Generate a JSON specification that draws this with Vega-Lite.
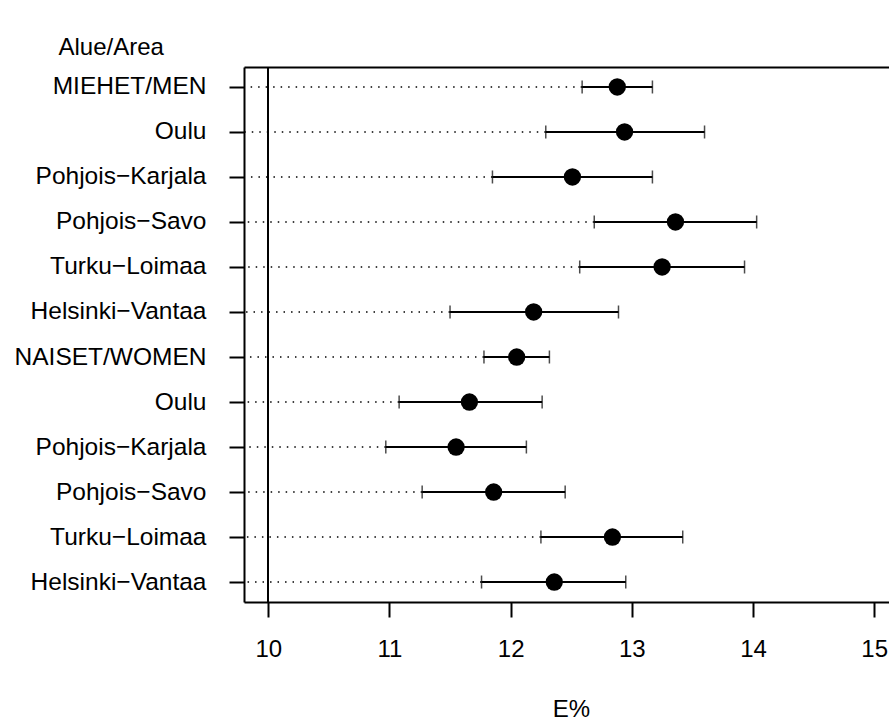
{
  "$schema": "https://vega.github.io/schema/vega-lite/v6.json",
  "autosize": {"type": "none"},
  "padding": {"left": 244, "top": 67, "right": 0, "bottom": 118},
  "width": 645,
  "height": 535,
  "background": "white",
  "config": {
    "font": "Liberation Sans",
    "view": {"stroke": null},
    "axis": {"grid": false, "labelColor": "black", "titleColor": "black", "domainColor": "black", "tickColor": "black"}
  },
  "data": {
    "values": [
      {"key": "M MIEHET/MEN", "est": 12.88, "lo": 12.59, "hi": 13.17},
      {"key": "M Oulu", "est": 12.94, "lo": 12.29, "hi": 13.60},
      {"key": "M Pohjois−Karjala", "est": 12.51, "lo": 11.85, "hi": 13.17},
      {"key": "M Pohjois−Savo", "est": 13.36, "lo": 12.69, "hi": 14.03},
      {"key": "M Turku−Loimaa", "est": 13.25, "lo": 12.57, "hi": 13.93},
      {"key": "M Helsinki−Vantaa", "est": 12.19, "lo": 11.50, "hi": 12.89},
      {"key": "N NAISET/WOMEN", "est": 12.05, "lo": 11.78, "hi": 12.32},
      {"key": "N Oulu", "est": 11.66, "lo": 11.08, "hi": 12.26},
      {"key": "N Pohjois−Karjala", "est": 11.55, "lo": 10.97, "hi": 12.13},
      {"key": "N Pohjois−Savo", "est": 11.86, "lo": 11.27, "hi": 12.45},
      {"key": "N Turku−Loimaa", "est": 12.84, "lo": 12.25, "hi": 13.42},
      {"key": "N Helsinki−Vantaa", "est": 12.36, "lo": 11.76, "hi": 12.95}
    ]
  },
  "resolve": {"axis": {"x": "independent"}},
  "layer": [
    {
      "mark": {"type": "rule", "color": "black", "strokeWidth": 1.5, "strokeDash": [1.5, 6]},
      "encoding": {
        "y": {
          "field": "key", "type": "nominal", "sort": null,
          "scale": {"type": "point", "padding": 0.444},
          "axis": {
            "title": "Alue/Area", "titleAngle": 0, "titleAlign": "left", "titleBaseline": "middle",
            "titleX": -186, "titleY": -20, "titleFontSize": 24, "titleFontWeight": "normal",
            "labelExpr": "slice(datum.label, 2)", "labelFontSize": 24.5, "labelPadding": 23,
            "tickSize": 15, "tickWidth": 2, "domainWidth": 2, "labelLimit": 0
          }
        },
        "x": {"field": "lo", "type": "quantitative", "axis": null,
              "scale": {"domain": [9.8, 15.122], "nice": false, "zero": false}},
        "x2": {"datum": 9.8}
      }
    },
    {
      "mark": {"type": "rule", "color": "black", "strokeWidth": 1.5},
      "encoding": {
        "x": {"datum": 10, "type": "quantitative",
              "axis": {"orient": "top", "labels": false, "ticks": false, "domain": true, "domainWidth": 2, "title": null}}
      }
    },
    {
      "mark": {"type": "rule", "color": "black", "strokeWidth": 2},
      "encoding": {
        "y": {"field": "key", "type": "nominal", "sort": null},
        "x": {"field": "lo", "type": "quantitative",
              "axis": {"orient": "bottom", "values": [10, 11, 12, 13, 14, 15], "labelFontSize": 24,
                       "labelPadding": 20, "tickSize": 15, "tickWidth": 2, "domainWidth": 2,
                       "title": "E%", "titleFontSize": 24, "titleFontWeight": "normal",
                       "titleBaseline": "alphabetic", "titleX": 327, "titleY": 114, "labelFlush": false}},
        "x2": {"field": "hi"}
      }
    },
    {
      "mark": {"type": "tick", "color": "black", "size": 13, "thickness": 1.5, "orient": "vertical"},
      "encoding": {
        "y": {"field": "key", "type": "nominal", "sort": null},
        "x": {"field": "lo", "type": "quantitative", "axis": null}
      }
    },
    {
      "mark": {"type": "tick", "color": "black", "size": 13, "thickness": 1.5, "orient": "vertical"},
      "encoding": {
        "y": {"field": "key", "type": "nominal", "sort": null},
        "x": {"field": "hi", "type": "quantitative", "axis": null}
      }
    },
    {
      "mark": {"type": "point", "shape": "circle", "filled": true, "color": "black", "opacity": 1, "size": 300},
      "encoding": {
        "y": {"field": "key", "type": "nominal", "sort": null},
        "x": {"field": "est", "type": "quantitative", "axis": null}
      }
    }
  ]
}
